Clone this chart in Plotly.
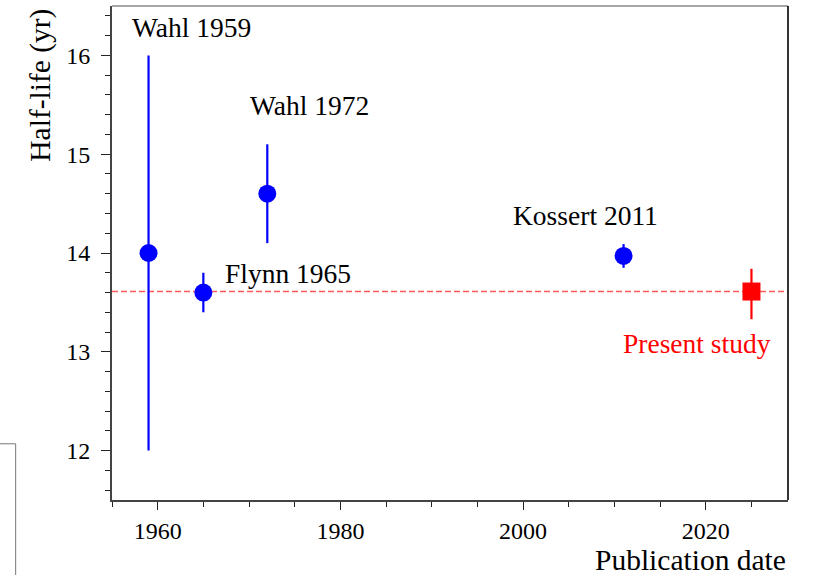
import plotly.graph_objects as go

# previous measurements
years = [1959, 1965, 1972, 2011]
half_life = [14.0, 13.6, 14.6, 13.97]
half_life_err = [2.0, 0.2, 0.5, 0.12]
labels = ["Wahl 1959", "Flynn 1965", "Wahl 1972", "Kossert 2011"]

# this work
present_year = [2025]
present_value = [13.61]
present_err_plus = [0.23]
present_err_minus = [0.28]
present_label = "Present study"

serif = "Liberation Serif"

fig = go.Figure()

fig.add_trace(go.Scatter(
    x=years, y=half_life,
    mode="markers",
    marker=dict(color="#0000ff", size=18, symbol="circle"),
    error_y=dict(type="data", array=half_life_err, color="#0000ff", thickness=2.2, width=0),
    showlegend=False,
))

fig.add_trace(go.Scatter(
    x=present_year, y=present_value,
    mode="markers",
    marker=dict(color="#ff0000", size=18, symbol="square"),
    error_y=dict(type="data", symmetric=False, array=present_err_plus,
                 arrayminus=present_err_minus, color="#ff0000", thickness=2.2, width=0),
    showlegend=False,
))

# reference line at the present value
fig.add_shape(type="line", xref="paper", x0=0, x1=1, yref="y",
              y0=present_value[0], y1=present_value[0],
              line=dict(color="#ff5a5a", width=1.5, dash="6px,3px"), layer="below")

# frame: top gray, right black
fig.add_shape(type="line", xref="paper", yref="paper", x0=0, x1=1, y0=1, y1=1,
              line=dict(color="#888888", width=1.6))
fig.add_shape(type="line", xref="paper", yref="paper", x0=1, x1=1, y0=0, y1=1,
              line=dict(color="#000000", width=1.6))

# stray box fragment at lower left
fig.add_shape(type="path", xref="paper", yref="paper",
              path="M -0.166,0.1138 L -0.1425,0.1138 L -0.1425,-0.152",
              line=dict(color="#777777", width=1))

# point labels (positions in data units)
label_pos = [(1963.7, 16.28), (1974.3, 13.79), (1976.6, 15.49), (2006.8, 14.38)]
annotations = []
for txt, (lx, ly) in zip(labels, label_pos):
    annotations.append(dict(x=lx, y=ly, xref="x", yref="y", text=txt, showarrow=False,
                            font=dict(family=serif, size=27.5, color="black"),
                            xanchor="center", yanchor="middle"))
annotations.append(dict(x=2019.0, y=13.085, xref="x", yref="y", text=present_label,
                        showarrow=False, font=dict(family=serif, size=27.5, color="#ff0000"),
                        xanchor="center", yanchor="middle"))

# axis titles
annotations.append(dict(x=-0.107, y=0.84, xref="paper", yref="paper", text="Half-life (yr)",
                        textangle=-90, showarrow=False,
                        font=dict(family=serif, size=29.5, color="black"),
                        xanchor="center", yanchor="middle"))
annotations.append(dict(x=1.0, y=-0.122, xref="paper", yref="paper", text="Publication date",
                        showarrow=False, font=dict(family=serif, size=29.5, color="black"),
                        xanchor="right", yanchor="middle"))

fig.update_layout(
    width=815, height=575,
    margin=dict(l=112, r=27, t=6, b=75),
    plot_bgcolor="white", paper_bgcolor="white",
    font=dict(family=serif, size=24, color="black"),
    annotations=annotations,
)

fig.update_xaxes(
    range=[1955, 2029], tickvals=[1960, 1980, 2000, 2020],
    showgrid=False, zeroline=False,
    showline=True, linecolor="#444444", linewidth=2,
    ticks="outside", ticklen=8, tickwidth=1.2, tickcolor="#222222",
    minor=dict(dtick=5, tick0=1955, ticks="outside", ticklen=5, tickwidth=1, tickcolor="#222222", showgrid=False),
    tickfont=dict(family=serif, size=24, color="black"),
)
fig.update_yaxes(
    range=[11.5, 16.5], tickvals=[12, 13, 14, 15, 16],
    showgrid=False, zeroline=False,
    showline=True, linecolor="#444444", linewidth=2,
    ticks="outside", ticklen=9, tickwidth=1.2, tickcolor="#222222",
    minor=dict(dtick=0.2, tick0=12, ticks="outside", ticklen=5, tickwidth=1, tickcolor="#222222", showgrid=False),
    tickfont=dict(family=serif, size=24, color="black"),
    ticklabelstandoff=6,
)

# drop the default page margin so the figure sits at the window corner
fig.write_html("out.html", config={"displayModeBar": False},
               post_script="document.body.style.margin='0';")
